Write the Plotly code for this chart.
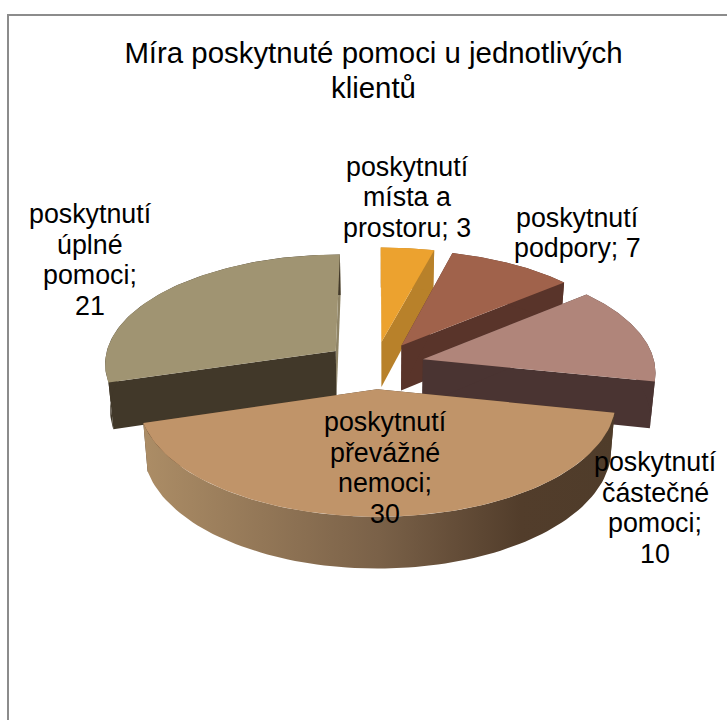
import numpy as np
import plotly.graph_objects as go

# ---- data ----
categories = ["poskytnutí<br>místa a<br>prostoru", "poskytnutí<br>podpory",
              "poskytnutí<br>částečné<br>pomoci", "poskytnutí<br>převážné<br>nemoci",
              "poskytnutí<br>úplné<br>pomoci"]
values = [3, 7, 10, 30, 21]
value_separators = ["; ", "; ", ";<br>", ";<br>", ";<br>"]
title_lines = ["Míra poskytnuté pomoci u jednotlivých", "klientů"]

# ---- styling ----
top_colors = ["#ECA22F", "#A0624B", "#B0857A", "#C09469", "#A09472"]
side_colors = ["#B8812A", "#59342A", "#4A3432", "#4F3C2A", "#413829"]
end_cut_colors = ["#B8812A", "#59342A", "#4A3432", "#4F3C2A", "#8F8466"]
big_side_gradient = [[0, "#AC8D66"], [0.5, "#7A6148"], [0.8, "#523D2B"], [1, "#4F3C2A"]]
label_centers = [(407, 197), (577, 233), (655, 508), (385, 468), (90, 260)]
draw_order = [0, 1, 2, 4, 3]

# pie projection
CX, CY = 375, 365
RX, RY = 232, 111
PERSP = 0.104
EXPLODE = 0.214
DEPTH = 46
BOTTOM_SHRINK = 0.982
FONT = "Liberation Sans"
LABEL_SIZE = 26.8
LINE_STEP = 30.5


def project(a, b):
    w = 1 + PERSP * b
    return CX + RX * a * w, CY + RY * b * w


def drop(x, y, b):
    w = 1 + PERSP * b
    return 380 + (x - 380) * BOTTOM_SHRINK, y + DEPTH * w


fig = go.Figure()


def add_poly(xs, ys, color=None, gradient=None):
    kw = dict(fillgradient=dict(type="horizontal", colorscale=gradient)) if gradient else dict(fillcolor=color)
    fig.add_trace(go.Scatter(x=xs, y=ys, mode="lines", fill="toself", line=dict(width=0),
                             hoverinfo="skip", showlegend=False, **kw))


total = sum(values)
edges = np.cumsum([0] + values) / total * 2 * np.pi

for i in draw_order:
    t0, t1 = edges[i], edges[i + 1]
    mid = (t0 + t1) / 2
    a0, b0 = EXPLODE * np.sin(mid), -EXPLODE * np.cos(mid)
    t = np.linspace(t0, t1, 90)
    a = a0 + np.sin(t)
    b = b0 - np.cos(t)
    ax, ay = project(a0, b0)
    ox, oy = project(a, b)
    bx, by = drop(ox, oy, b)
    apx, apy = drop(ax, ay, b0)

    add_poly([ax, ox[-1], bx[-1], apx, ax], [ay, oy[-1], by[-1], apy, ay], end_cut_colors[i])
    add_poly([ax, ox[0], bx[0], apx, ax], [ay, oy[0], by[0], apy, ay], side_colors[i])
    add_poly(np.r_[ox, bx[::-1], ox[0]], np.r_[oy, by[::-1], oy[0]], side_colors[i],
             big_side_gradient if i == 3 else None)
    add_poly(np.r_[ax, ox, ax], np.r_[ay, oy, ay], top_colors[i])

annotations = []
for cat, val, sep, (lx, ly) in zip(categories, values, value_separators, label_centers):
    lines = f"{cat}{sep}{val}".split("<br>")
    for n, line in enumerate(lines):
        annotations.append(dict(x=lx, y=ly + (n - (len(lines) - 1) / 2) * LINE_STEP, xref="x", yref="y",
                                text=line, showarrow=False, xanchor="center", yanchor="middle",
                                font=dict(family=FONT, size=LABEL_SIZE, color="#000000")))

annotations.append(dict(x=373.5, y=87, xref="x", yref="y", text=title_lines[1], showarrow=False,
                        xanchor="center", yanchor="middle",
                        font=dict(family=FONT, size=29.4, color="#000000")))

fig.update_layout(
    width=727, height=720, margin=dict(l=0, r=0, t=0, b=0),
    paper_bgcolor="white", plot_bgcolor="white", showlegend=False, autosize=False,
    title=dict(text=title_lines[0], x=373.5 / 727, xanchor="center", y=1 - 53 / 720, yanchor="middle",
               font=dict(family=FONT, size=29.4, color="#000000")),
    xaxis=dict(range=[0, 727], visible=False, fixedrange=True),
    yaxis=dict(range=[720, 0], visible=False, fixedrange=True),
    annotations=annotations,
    shapes=[dict(type="rect", xref="x", yref="y", x0=8, y0=15, x1=760, y1=760,
                 line=dict(color="#8C8C8C", width=2), layer="below")],
)
fig.write_html("out.html", post_script="document.body.style.margin='0';",
               config={"displayModeBar": False})
